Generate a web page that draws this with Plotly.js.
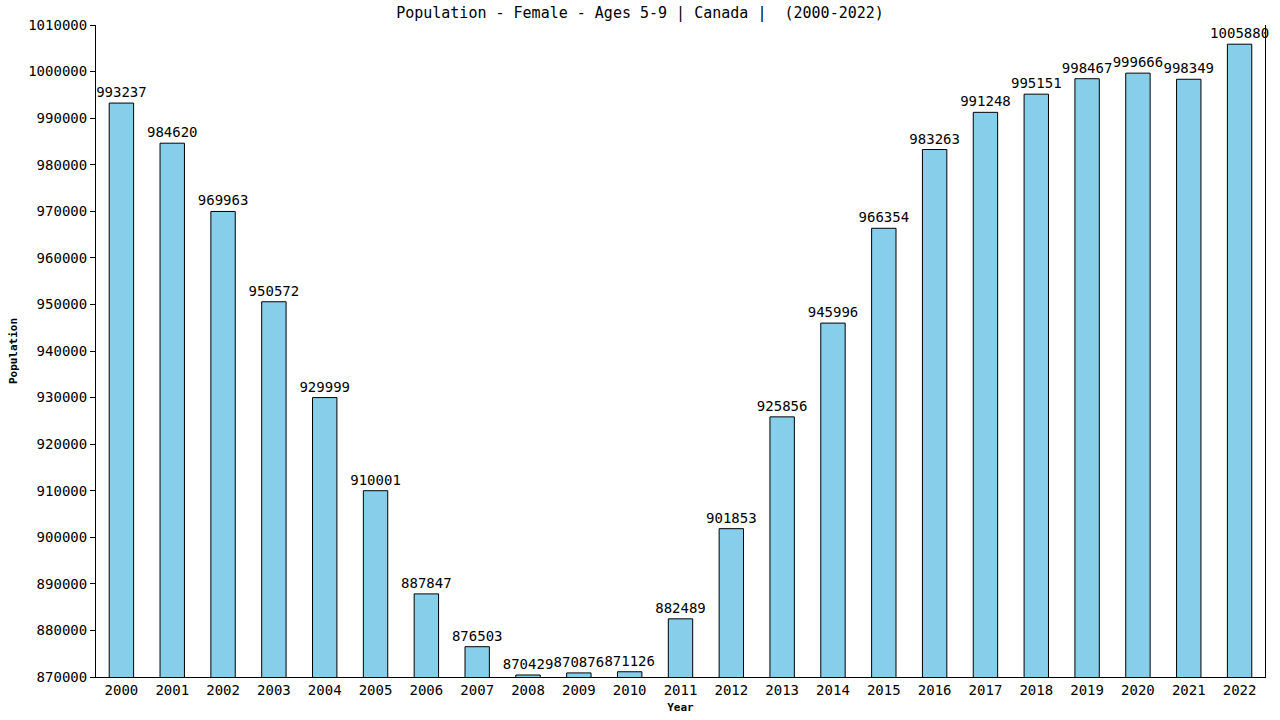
<!DOCTYPE html>
<html>
<head>
<meta charset="utf-8">
<script src="https://cdn.plot.ly/plotly-3.0.1.min.js"></script>
<style>
  html, body { margin: 0; padding: 0; background: #fff; }
  #chart { width: 1280px; height: 720px; }
</style>
</head>
<body>
<div id="chart"></div>
<script>
// ------------------------------
// Female population, ages 5-9, Canada
// ------------------------------
var years = ['2000', '2001', '2002', '2003', '2004', '2005', '2006', '2007',
  '2008', '2009', '2010', '2011', '2012', '2013', '2014', '2015', '2016',
  '2017', '2018', '2019', '2020', '2021', '2022'];

var population = [993237, 984620, 969963, 950572, 929999, 910001, 887847,
  876503, 870429, 870876, 871126, 882489, 901853, 925856, 945996, 966354,
  983263, 991248, 995151, 998467, 999666, 998349, 1005880];

var yTicks = [870000, 880000, 890000, 900000, 910000, 920000, 930000,
  940000, 950000, 960000, 970000, 980000, 990000, 1000000, 1010000];

var font = 'DejaVu Sans Mono, monospace';

var bars = {
  x: years,
  y: population,
  type: 'bar',
  text: population.map(String),
  textposition: 'outside',
  constraintext: 'none',
  cliponaxis: false,
  outsidetextfont: { family: font, size: 14, color: '#000' },
  marker: { color: '#87ceeb', line: { color: '#000', width: 1 } },
  hoverinfo: 'x+y'
};

var layout = {
  width: 1280,
  height: 720,
  margin: { l: 96, r: 15, t: 25, b: 43 },
  paper_bgcolor: '#fff',
  plot_bgcolor: '#fff',
  bargap: 0.52,
  showlegend: false,
  font: { family: font, size: 14, color: '#000' },
  title: {
    text: 'Population - Female - Ages 5-9 | Canada |  (2000-2022)',
    font: { family: font, size: 15, color: '#000' },
    x: 0.5, xanchor: 'center', y: 0.982, yanchor: 'middle'
  },
  xaxis: {
    type: 'category',
    showline: true, linecolor: '#000', linewidth: 1,
    showgrid: false, zeroline: false,
    ticks: '', ticklen: 0,
    tickfont: { family: font, size: 14 },
    title: { text: '<b>Year</b>', font: { family: font, size: 11 }, standoff: 6 }
  },
  yaxis: {
    range: [870000, 1010000],
    tickvals: yTicks,
    ticktext: yTicks.map(String),
    showline: true, mirror: true, linecolor: '#000', linewidth: 1,
    showgrid: false, zeroline: false,
    ticks: 'outside', ticklen: 5, tickcolor: '#000',
    tickfont: { family: font, size: 14 },
    title: { text: '<b>Population</b>', font: { family: font, size: 11 }, standoff: 8 }
  }
};

Plotly.newPlot('chart', [bars], layout, { displayModeBar: false, staticPlot: true });
</script>
</body>
</html>
